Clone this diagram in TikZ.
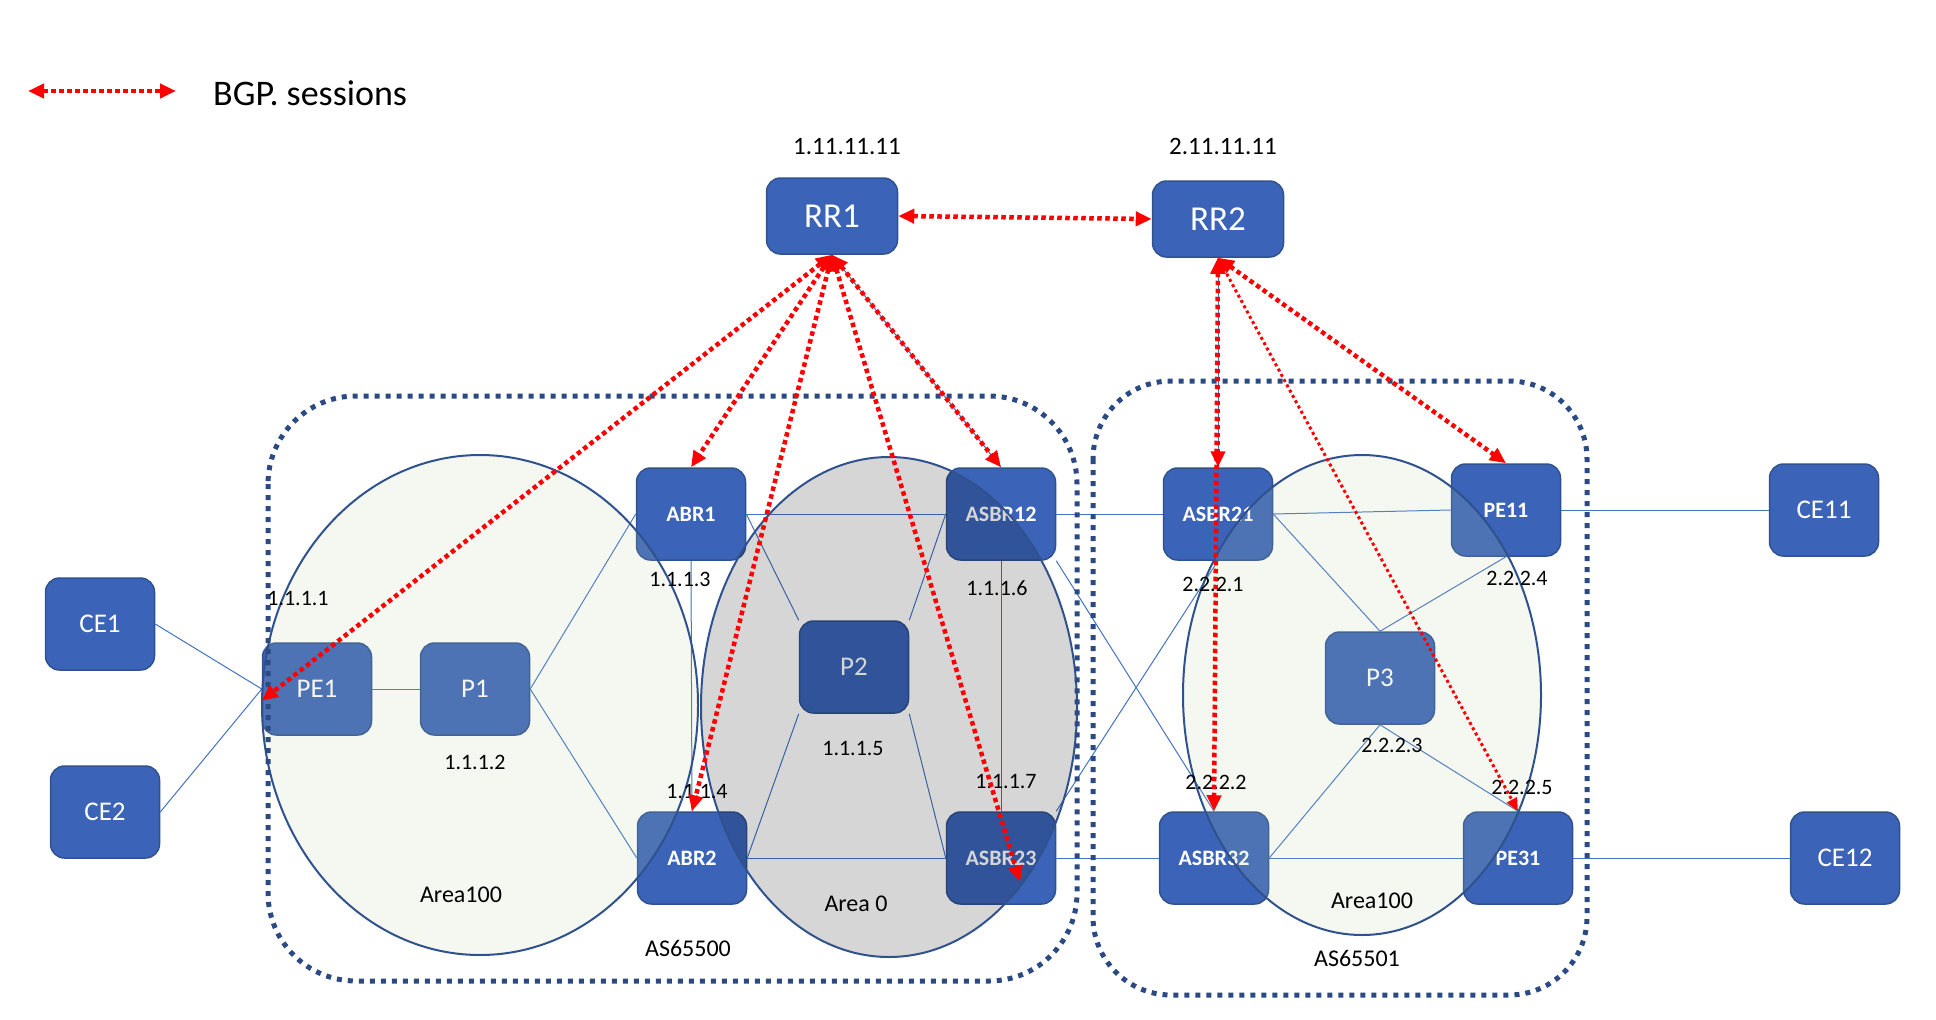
\documentclass[tikz,border=0pt]{standalone}
\usepackage{fontspec}
\setmainfont{Carlito}
\usetikzlibrary{arrows.meta}
\definecolor{boxfill}{RGB}{59,100,184}
\definecolor{boxline}{RGB}{47,82,143}
\definecolor{linkblue}{RGB}{68,114,196}
\definecolor{asnavy}{RGB}{43,74,132}
\definecolor{areagreen}{RGB}{186,207,164}
\definecolor{areaedge}{RGB}{47,82,143}
\definecolor{bgpred}{RGB}{255,0,0}
\begin{document}
\begin{tikzpicture}[x=1pt,y=-1pt,
  dev/.style={draw=boxline, line width=1.5pt, fill=boxfill, rounded corners=14pt,
    minimum width=109pt, minimum height=92pt, inner sep=0pt, text=white,
    font=\fontsize{27}{30}\selectfont},
  devs/.style={dev, font=\fontsize{22}{26}\selectfont\bfseries},
  rr/.style={dev, minimum width=131pt, minimum height=76pt, font=\fontsize{35}{40}\selectfont},
  link/.style={draw=linkblue, line width=1pt},
  bgp/.style={draw=bgpred, line width=4.5pt, dash pattern=on 4.5pt off 3.5pt,
    {Triangle[length=16pt,width=14pt]}-{Triangle[length=16pt,width=14pt]}},
  bgpthin/.style={draw=bgpred, line width=3pt, dash pattern=on 3pt off 3pt,
    {Triangle[length=13pt,width=11pt]}-{Triangle[length=13pt,width=11pt]}},
  asbox/.style={draw=asnavy, line width=5pt, dash pattern=on 5pt off 6pt},
  areaG/.style={fill=areagreen, fill opacity=0.15, draw=areaedge, draw opacity=1, line width=2pt},
  areaK/.style={fill=black, fill opacity=0.16, draw=areaedge, draw opacity=1, line width=2pt},
  ip/.style={inner sep=0pt, font=\fontsize{22}{26}\selectfont},
  iprr/.style={inner sep=0pt, font=\fontsize{25}{28}\selectfont},
  lbl/.style={inner sep=0pt, font=\fontsize{24}{28}\selectfont}
]
\useasboundingbox (0,0) rectangle (1936,1020);

% devices
\node[dev] (CE1) at (100,624) {CE1};
\node[dev] (CE2) at (105,812) {CE2};
\node[dev] (PE1) at (317,689) {PE1};
\node[dev] (P1) at (475,689) {P1};
\node[devs] (ABR1) at (691,514) {ABR1};
\node[devs] (ABR2) at (692,858) {ABR2};
\node[dev] (P2) at (854,667) {P2};
\node[devs] (ASBR12) at (1001,514) {ASBR12};
\node[devs] (ASBR23) at (1001,858) {ASBR23};
\node[rr] (RR1) at (832,216) {RR1};
\node[rr] (RR2) at (1218,219) {RR2};
\node[devs] (ASBR21) at (1218,514) {ASBR21};
\node[devs] (ASBR32) at (1214,858) {ASBR32};
\node[devs] (PE11) at (1506,510) {PE11};
\node[devs] (PE31) at (1518,858) {PE31};
\node[dev] (P3) at (1380,678) {P3};
\node[dev] (CE11) at (1824,510) {CE11};
\node[dev] (CE12) at (1845,858) {CE12};

% links
\draw[link] (CE1.east) -- (PE1.west);
\draw[link] (CE2.east) -- (PE1.west);
\draw[link] (PE1.east) -- (P1.west);
\draw[link] (P1.east) -- (ABR1.west);
\draw[link] (P1.east) -- (ABR2.west);
\draw[link] (ABR1.south) -- (ABR2.north);
\draw[link] (ABR1.east) -- (ASBR12.west);
\draw[link] (ABR1.east) -- (P2.north west);
\draw[link] (ASBR12.west) -- (P2.north east);
\draw[link] (ABR2.east) -- (P2.south west);
\draw[link] (ASBR23.west) -- (P2.south east);
\draw[link] (ABR2.east) -- (ASBR23.west);
\draw[link] (ASBR12.south) -- (ASBR23.north);
\draw[link] (ASBR12.east) -- (ASBR21.west);
\draw[link] (ASBR12.south east) -- (ASBR32.north);
\draw[link] (ASBR23.north east) -- (ASBR21.south);
\draw[link] (ASBR23.east) -- (ASBR32.west);
\draw[link] (ASBR21.east) -- (PE11.west);
\draw[link] (ASBR21.east) -- (P3.north);
\draw[link] (PE11.south) -- (P3.north);
\draw[link] (ASBR32.east) -- (P3.south);
\draw[link] (P3.south) -- (PE31.north);
\draw[link] (ASBR32.east) -- (PE31.west);
\draw[link] (PE11.east) -- (CE11.west);
\draw[link] (PE31.east) -- (CE12.west);
\draw[link] (RR1.south) -- (ASBR12.north);
\draw[link] (RR2.south) -- (ASBR21.north);

% areas
\draw[areaG] (480,705) ellipse [x radius=218, y radius=250];
\draw[areaK] (889,707) ellipse [x radius=188, y radius=250];
\draw[areaG] (1362,695) ellipse [x radius=179, y radius=240];

% AS borders
\draw[asbox, rounded corners=88pt] (268,396) rectangle (1077,981);
\draw[asbox, rounded corners=78pt] (1093,381) rectangle (1587,995);

% labels
\node[iprr] (ipRR1) at (847,147) {1.11.11.11};
\node[iprr] (ipRR2) at (1223,146) {2.11.11.11};
\node[ip] (ipPE1) at (298,598) {1.1.1.1};
\node[ip] (ipP1) at (475,762) {1.1.1.2};
\node[ip] (ipABR1) at (680,579) {1.1.1.3};
\node[ip] (ipABR2) at (697,791) {1.1.1.4};
\node[ip] (ipP2) at (853,748) {1.1.1.5};
\node[ip] (ipASBR12) at (997,588) {1.1.1.6};
\node[ip] (ipASBR23) at (1006,781) {1.1.1.7};
\node[ip] (ipASBR21) at (1213,584) {2.2.2.1};
\node[ip] (ipASBR32) at (1216,782) {2.2.2.2};
\node[ip] (ipP3) at (1392,745) {2.2.2.3};
\node[ip] (ipPE11) at (1517,578) {2.2.2.4};
\node[ip] (ipPE31) at (1522,787) {2.2.2.5};
\node[lbl] (a100l) at (461,895) {Area100};
\node[lbl] (a0) at (856,904) {Area 0};
\node[lbl] (a100r) at (1372,901) {Area100};
\node[lbl] (as1) at (688,948) {AS65500};
\node[lbl] (as2) at (1357,958) {AS65501};

% legend
\coordinate (legA) at (28,91);
\coordinate (legB) at (176,91);
\draw[bgp] (legA) -- (legB);
\node[inner sep=0pt, anchor=west, font=\fontsize{36}{40}\selectfont] (legT) at (213,93) {BGP. sessions};

% BGP sessions
\draw[bgp] (RR1.east) -- (RR2.west);
\draw[bgp] (RR1.south) -- (PE1.192);
\draw[bgp] (RR1.south) -- (ABR1.north);
\draw[bgp] (RR1.south) -- (ABR2.north);
\draw[bgp] (RR1.south) -- ([xshift=19pt,yshift=-24pt]ASBR23.center);
\draw[bgp] (RR1.south) -- (ASBR12.north);
\draw[bgp] (RR2.south) -- (ASBR21.north);
\draw[bgp] (RR2.south) -- (ASBR32.north);
\draw[bgp] (RR2.south) -- (PE11.north);
\draw[bgpthin] (RR2.south) -- (PE31.north);
\end{tikzpicture}
\end{document}
